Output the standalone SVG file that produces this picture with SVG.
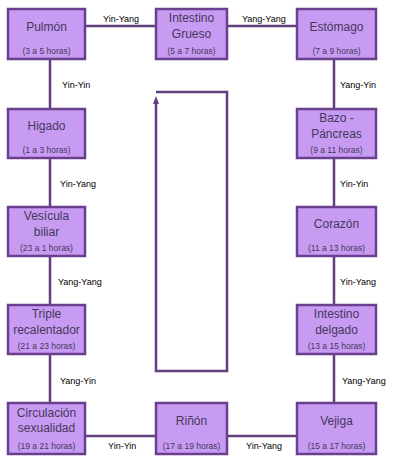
<svg xmlns="http://www.w3.org/2000/svg" width="400" height="463" viewBox="0 0 400 463">
<style>
.box{fill:#c89bf3;stroke:#6a3f8e;stroke-width:2.5}
.t{font-family:"Liberation Sans",Arial,sans-serif;font-size:12px;fill:#44385a;text-anchor:middle}
.h{font-family:"Liberation Sans",Arial,sans-serif;font-size:8.5px;fill:#44385a;text-anchor:middle}
.l{font-family:"Liberation Sans",Arial,sans-serif;font-size:9px;fill:#000}
.c{fill:none;stroke:#62407f;stroke-width:2.5}
</style>
<g id="connectors">
<path class="c" d="M85,26 H156 M227,26 H297 M85,436 H156 M227,436 H297"/>
<path class="c" d="M50,59 V109 M50,158 V207 M50,256 V305 M50,354 V403"/>
<path class="c" d="M334,59 V109 M334,158 V207 M334,256 V305 M334,354 V403"/>
<path class="c" d="M156,92 H227 V371 H156 V104"/>
<path d="M153,104 L156,96 L159,104 Z" fill="#62407f"/>
<text class="l" x="103" y="22">Yin-Yang</text>
<text class="l" x="242" y="22">Yang-Yang</text>
<text class="l" x="62" y="88">Yin-Yin</text>
<text class="l" x="340" y="88">Yang-Yin</text>
<text class="l" x="60" y="187">Yin-Yang</text>
<text class="l" x="340" y="187">Yin-Yin</text>
<text class="l" x="58" y="285">Yang-Yang</text>
<text class="l" x="340" y="285">Yin-Yang</text>
<text class="l" x="60" y="384">Yang-Yin</text>
<text class="l" x="342" y="384">Yang-Yang</text>
<text class="l" x="108" y="449">Yin-Yin</text>
<text class="l" x="246" y="449">Yin-Yang</text>
</g>
<g id="pulmon"><rect class="box" x="8" y="9" width="77" height="50"/><text class="t" x="46.5" y="31">Pulmón</text><text class="h" x="46.5" y="54">(3 a 5 horas)</text></g>
<g id="intestino-grueso"><rect class="box" x="156" y="9" width="71" height="50"/><text class="t" x="191.5" y="22">Intestino</text><text class="t" x="191.5" y="38">Grueso</text><text class="h" x="191.5" y="54">(5 a 7 horas)</text></g>
<g id="estomago"><rect class="box" x="297" y="9" width="79" height="50"/><text class="t" x="336.5" y="31">Estómago</text><text class="h" x="336.5" y="54">(7 a 9 horas)</text></g>
<g id="higado"><rect class="box" x="8" y="109" width="77" height="49"/><text class="t" x="46.5" y="130">Higado</text><text class="h" x="46.5" y="153">(1 a 3 horas)</text></g>
<g id="bazo"><rect class="box" x="297" y="109" width="79" height="49"/><text class="t" x="336.5" y="122">Bazo -</text><text class="t" x="336.5" y="138">Páncreas</text><text class="h" x="336.5" y="153">(9 a 11 horas)</text></g>
<g id="vesicula"><rect class="box" x="8" y="207" width="77" height="49"/><text class="t" x="46.5" y="220">Vesícula</text><text class="t" x="46.5" y="236">biliar</text><text class="h" x="46.5" y="251">(23 a 1 horas)</text></g>
<g id="corazon"><rect class="box" x="297" y="207" width="79" height="49"/><text class="t" x="336.5" y="228">Corazón</text><text class="h" x="336.5" y="251">(11 a 13 horas)</text></g>
<g id="triple"><rect class="box" x="8" y="305" width="77" height="49"/><text class="t" x="46.5" y="318">Triple</text><text class="t" x="46.5" y="334">recalentador</text><text class="h" x="46.5" y="349">(21 a 23 horas)</text></g>
<g id="intestino-delgado"><rect class="box" x="297" y="305" width="79" height="49"/><text class="t" x="336.5" y="318">Intestino</text><text class="t" x="336.5" y="334">delgado</text><text class="h" x="336.5" y="349">(13 a 15 horas)</text></g>
<g id="circulacion"><rect class="box" x="8" y="403" width="77" height="51"/><text class="t" x="46.5" y="417">Circulación</text><text class="t" x="46.5" y="432">sexualidad</text><text class="h" x="46.5" y="449">(19 a 21 horas)</text></g>
<g id="rinon"><rect class="box" x="156" y="403" width="71" height="51"/><text class="t" x="191.5" y="425">Riñón</text><text class="h" x="191.5" y="449">(17 a 19 horas)</text></g>
<g id="vejiga"><rect class="box" x="297" y="403" width="79" height="51"/><text class="t" x="336.5" y="425">Vejiga</text><text class="h" x="336.5" y="449">(15 a 17 horas)</text></g>
</svg>
